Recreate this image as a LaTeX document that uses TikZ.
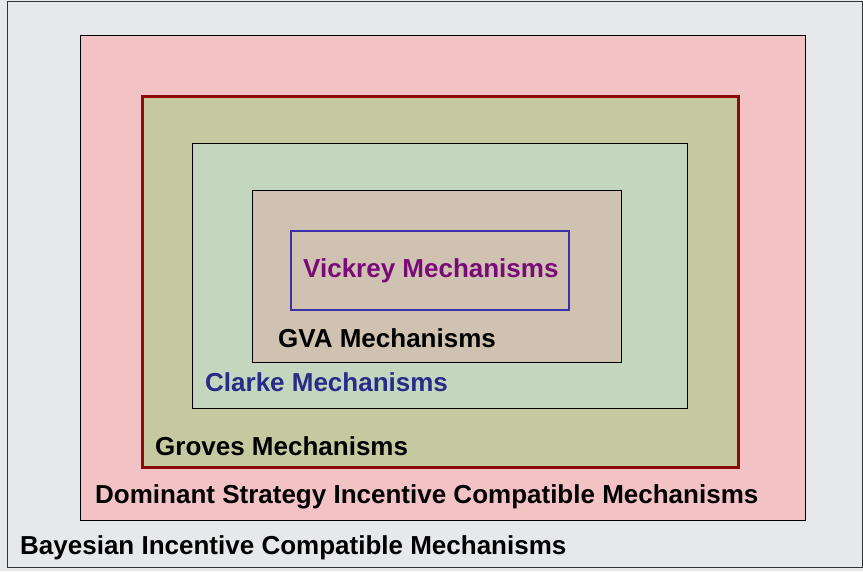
\documentclass[tikz,border=0pt]{standalone}
\usepackage{fontspec}
\setmainfont{Liberation Sans}
\definecolor{bgc}{HTML}{E6E8EA}
\definecolor{pinkc}{HTML}{F2C2C4}
\definecolor{olivec}{HTML}{C6C9A0}
\definecolor{greenc}{HTML}{C5D6BF}
\definecolor{tanc}{HTML}{CFC2B1}
\definecolor{darkredc}{HTML}{8B0A0A}
\definecolor{bluec}{HTML}{3A30A8}
\definecolor{purplec}{HTML}{7A0A78}
\definecolor{clarkec}{HTML}{2A2A88}
\tikzset{
  lbl/.style={anchor=west, inner sep=0pt, font=\bfseries\fontsize{26}{30}\selectfont},
  setbox/.style={draw=black, line width=0.8pt}
}
\begin{document}
\begin{tikzpicture}[x=1pt,y=-1pt]
\useasboundingbox (0,0) rectangle (863,571);
\fill[bgc] (0,0) rectangle (863,571);
\draw[black!80, line width=0.8pt] (7,1) rectangle (862,567);
\draw[setbox, fill=pinkc] (80,35) rectangle (805,520);
\draw[fill=olivec, draw=darkredc, line width=3pt] (142,96) rectangle (738,467);
\draw[setbox, fill=greenc] (192,143) rectangle (687,408);
\draw[setbox, fill=tanc] (252,190) rectangle (621,362);
\draw[draw=bluec, line width=2.5pt] (291,231) rectangle (569,310);
\node[lbl, text=purplec] (vick) at (303,271) {Vickrey Mechanisms};
\node[lbl] (gva) at (278,338) {GVA Mechanisms};
\node[lbl, text=clarkec] (clarke) at (205,382) {Clarke Mechanisms};
\node[lbl] (groves) at (155,446) {Groves Mechanisms};
\node[lbl] (dom) at (95,497) {Dominant Strategy Incentive Compatible Mechanisms};
\node[lbl] (bayes) at (20,548) {Bayesian Incentive Compatible Mechanisms};
\end{tikzpicture}
\end{document}
